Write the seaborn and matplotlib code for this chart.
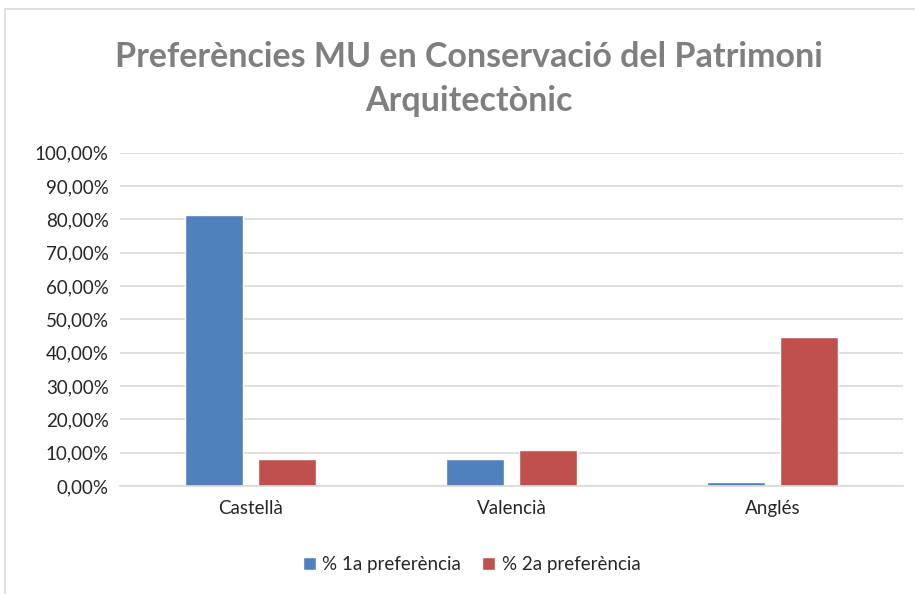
import matplotlib
matplotlib.use("Agg")
import matplotlib.pyplot as plt
import pandas as pd
import seaborn as sns
from matplotlib.patches import Rectangle
from matplotlib.ticker import FuncFormatter

# %%
categories = ["Castellà", "Valencià", "Anglés"]
series_names = ["% 1a preferència", "% 2a preferència"]
primera = [81.2, 8.0, 1.3]
segona = [8.1, 10.7, 44.6]
colors = ["#4F81BD", "#C0504D"]

df = pd.DataFrame(
    {
        "Llengua": categories * 2,
        "Serie": [series_names[0]] * 3 + [series_names[1]] * 3,
        "Valor": primera + segona,
    }
)

# %%
sns.set_theme(style="white")
plt.rcParams["font.family"] = ["Lato", "DejaVu Sans"]

fig = plt.figure(figsize=(9.15, 5.94), dpi=100)
ax = fig.add_axes([0.131, 0.182, 0.856, 0.561])

sns.barplot(
    data=df,
    x="Llengua",
    y="Valor",
    hue="Serie",
    palette=colors,
    saturation=1,
    width=0.56,
    gap=0.21,
    ax=ax,
    legend=True,
)

ax.set_xlim(-0.5, 2.5)
ax.set_ylim(0, 100)
ax.set_yticks(range(0, 101, 10))
ax.yaxis.set_major_formatter(FuncFormatter(lambda v, p: f"{v:.2f}%".replace(".", ",")))
ax.grid(axis="y", color="#D9D9D9", linewidth=1.2)
ax.set_axisbelow(True)
for s in ["top", "right", "left"]:
    ax.spines[s].set_visible(False)
ax.spines["bottom"].set_color("#D9D9D9")
ax.spines["bottom"].set_linewidth(1.2)
ax.tick_params(axis="both", length=0, labelsize=13.5, colors="#262626", pad=8)
ax.tick_params(axis="x", pad=10)
ax.set_xlabel("")
ax.set_ylabel("")

ax.legend(
    loc="center",
    bbox_to_anchor=(0.449, -0.235),
    ncol=2,
    frameon=False,
    fontsize=13.5,
    handlelength=0.7,
    handleheight=0.7,
    handletextpad=0.35,
    columnspacing=1.1,
    labelcolor="#262626",
)

fig.text(
    0.512,
    0.867,
    "Preferències MU en Conservació del Patrimoni\nArquitectònic",
    ha="center",
    va="center",
    fontsize=24.5,
    fontweight="bold",
    color="#7F7F7F",
    linespacing=1.45,
)

fig.patches.append(
    Rectangle((0.006, -0.01), 1.2, 0.995, transform=fig.transFigure,
              fill=False, edgecolor="#D9D9D9", linewidth=1.2)
)

fig.savefig("out.png", dpi=100)
